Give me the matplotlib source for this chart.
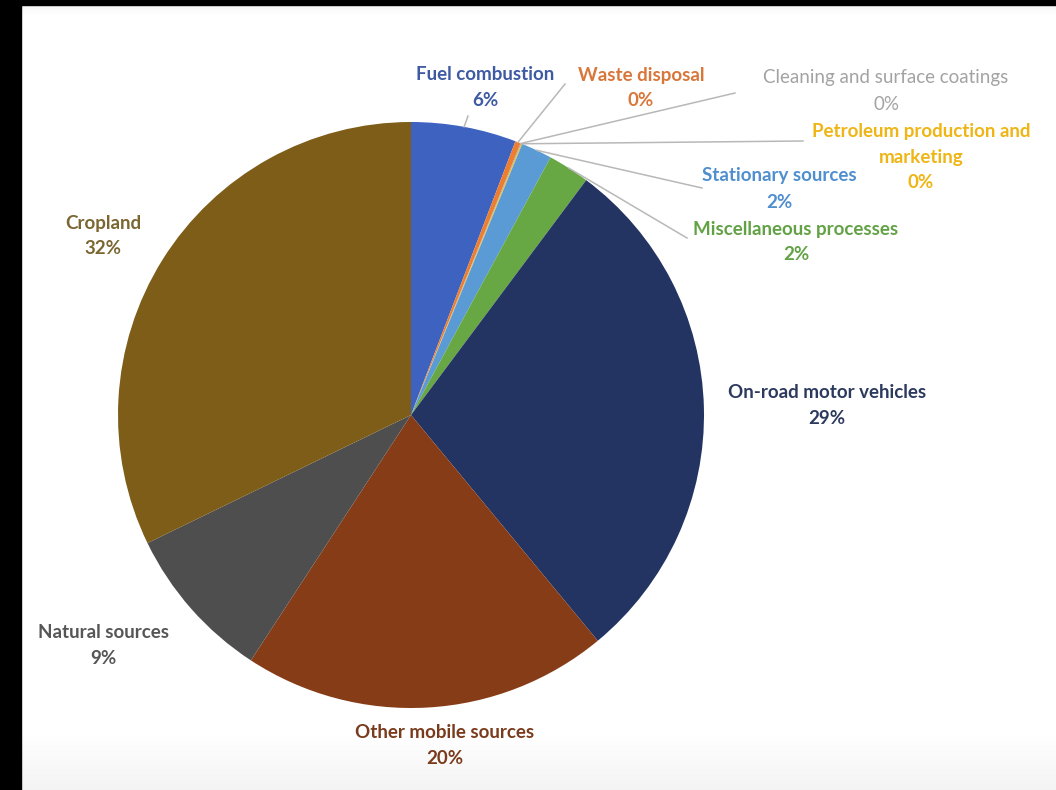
import numpy as np
import matplotlib
matplotlib.use("Agg")
import matplotlib.pyplot as plt
from matplotlib.patches import Rectangle

# Emission source shares (percent), clockwise from 12 o'clock
categories = [
    "Fuel combustion",
    "Waste disposal",
    "Cleaning and surface coatings",
    "Petroleum production and\nmarketing",
    "Stationary sources",
    "Miscellaneous processes",
    "On-road motor vehicles",
    "Other mobile sources",
    "Natural sources",
    "Cropland",
]
shares = [5.8, 0.3, 0.05, 0.05, 1.7, 2.3, 28.8, 20.2, 8.6, 32.2]

slice_colors = ["#3e62bf", "#ed7d31", "#a5a5a5", "#ffc000", "#5b9bd5",
                "#67a845", "#233462", "#873c18", "#4e4e4e", "#7d5d17"]
label_colors = ["#3d5aa3", "#d9773a", "#a3a3a3", "#efb514", "#4f8fcf",
                "#62a245", "#2c3a5e", "#7a3b1c", "#565656", "#7a6630"]

W, H = 1056, 790
fig = plt.figure(figsize=(W / 100, H / 100), dpi=100)
ax = fig.add_axes([0, 0, 1, 1])

# soft page background: white with a faint grey fade at the bottom
grad = np.ones((H, 1))
rows = np.arange(H)
fade = np.clip((rows - 735) / 55.0, 0, 1)
grad[:, 0] = 1.0 - 0.045 * fade
top = np.clip(1 - (rows - 5) / 10.0, 0, 1) * (rows >= 5)
grad[:, 0] -= 0.03 * top
ax.imshow(np.dstack([grad, grad, grad]), extent=(0, W, 0, H), aspect="auto",
          zorder=0, origin="upper")

cx, cy, r = 411, H - 415, 293
wedges, _ = ax.pie(shares, colors=slice_colors, startangle=90, counterclock=False,
                   center=(cx, cy), radius=r, wedgeprops=dict(linewidth=0),
                   frame=False)
for w in wedges:
    w.set_zorder(2)

# label block centres (x, y measured from the top)
label_pos = [(485, 88), (641, 88), (886, 91), (921, 157), (779, 189),
             (796, 242), (827, 406), (445, 745), (103, 646), (103, 236)]
# leader line end points for the small slices (None = no leader)
leader_end = [(468, 116), (565, 84), (735, 93), (803, 141), (702, 188),
              (687, 238), None, None, None, None]

LINE_PX = 26  # vertical distance between label lines, in pixels
cum = np.cumsum([0] + shares)
total = cum[-1]
for i, (name, val) in enumerate(zip(categories, shares)):
    lx, ly = label_pos[i]
    weight = "normal" if i == 2 else "bold"
    lines = name.split("\n") + [f"{val:.0f}%"]
    y0 = ly - LINE_PX * (len(lines) - 1) / 2
    for k, line in enumerate(lines):
        ax.text(lx, H - (y0 + k * LINE_PX), line, ha="center", va="center",
                fontsize=13.5, fontfamily="Lato", fontweight=weight,
                color=label_colors[i], zorder=4)
    if leader_end[i] is not None:
        mid = (cum[i] + cum[i + 1]) / 2 / total * 360.0
        th = np.deg2rad(90 - mid)
        sx, sy = cx + r * np.cos(th), cy + r * np.sin(th)
        ex, ey = leader_end[i]
        ax.plot([sx, ex], [sy, H - ey], color="#b8b8b8", lw=1.1, zorder=3)

# dark frame strips along the left and top edges
ax.add_patch(Rectangle((0, 0), 21, H, color="black", zorder=5))
ax.add_patch(Rectangle((0, H - 5), W, 5, color="black", zorder=5))

ax.set_xlim(0, W)
ax.set_ylim(0, H)
ax.set_aspect("auto")
ax.axis("off")
fig.savefig("out.png", dpi=100)
